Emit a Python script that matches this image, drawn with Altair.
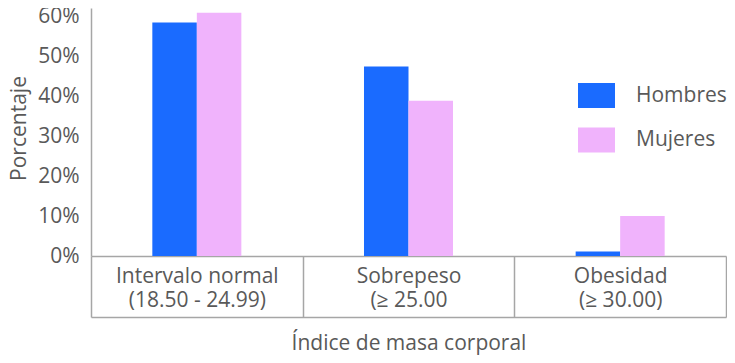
import altair as alt
import pandas as pd

categorias = ["Intervalo normal|(18.50 - 24.99)", "Sobrepeso|(≥ 25.00", "Obesidad|(≥ 30.00)"]
sexos = ["Hombres", "Mujeres"]
hombres = [58.4, 47.4, 1.1]
mujeres = [60.8, 38.8, 10.0]
colores = ["#1a6bff", "#f0b3fc"]
y_ticks = [0, 10, 20, 30, 40, 50, 60]

rows = []
for c, h, m in zip(categorias, hombres, mujeres):
    rows.append({"cat": c, "sexo": "Hombres", "pct": h})
    rows.append({"cat": c, "sexo": "Mujeres", "pct": m})
df = pd.DataFrame(rows)

FONT = "Open Sans"
TXT = "#595959"
LINE = "#a6a6a6"
FS = 21
BOX = 61  # height of the category box below the baseline

# empty slots on either side of each pair of bars
offset_domain = ["_izq"] + sexos + ["_der"]

y_enc = alt.Y(
    "pct:Q",
    scale=alt.Scale(domain=[0, 62], nice=False),
    axis=alt.Axis(
        values=y_ticks, labelExpr="datum.value + '%'", ticks=False, grid=False,
        domainColor=LINE, domainWidth=1.5, labelPadding=12, labelFontSize=FS,
        labelColor=TXT, labelFont=FONT, title="Porcentaje", titleFontSize=FS,
        titleColor=TXT, titleFont=FONT, titleFontWeight="normal", titleX=-72, titleY=120,
        titleAngle=270, titleBaseline="middle", titleAlign="center",
    ),
)

x_scale = alt.Scale(paddingInner=0, paddingOuter=0)

bars = alt.Chart(df).mark_bar().encode(
    x=alt.X(
        "cat:N", sort=categorias, scale=x_scale,
        axis=alt.Axis(
            orient="bottom", title="Índice de masa corporal", titleY=93,
            titleBaseline="alphabetic", titleFontSize=FS, titleColor=TXT, titleFont=FONT,
            titleFontWeight="normal",
            labelExpr="split(datum.label, '|')", labelAngle=0, labelBaseline="alphabetic",
            labelPadding=26 - BOX, labelLineHeight=24.5, labelLimit=300, labelFontSize=FS,
            labelColor=TXT, labelFont=FONT,
            tickBand="extent", tickSize=BOX, tickColor=LINE, tickWidth=1.5,
            domainColor=LINE, domainWidth=1.5, grid=False,
        ),
    ),
    xOffset=alt.XOffset("sexo:N", scale=alt.Scale(domain=offset_domain, paddingInner=0, paddingOuter=0.378)),
    y=y_enc,
    color=alt.Color(
        "sexo:N", sort=sexos, scale=alt.Scale(domain=sexos, range=colores),
        legend=alt.Legend(
            orient="none", legendX=487, legendY=69, title=None,
            symbolType="M-1,-0.676L1,-0.676L1,0.676L-1,0.676Z", symbolSize=1369,
            symbolStrokeWidth=0, symbolOpacity=1, labelFontSize=FS, labelColor=TXT,
            labelFont=FONT, labelOffset=21, rowPadding=12.5, padding=0,
        ),
    ),
)

bottom = alt.Chart(df).mark_bar(opacity=0).encode(
    x=alt.X(
        "cat:N", sort=categorias, scale=x_scale,
        axis=alt.Axis(orient="bottom", offset=BOX, labels=False, ticks=False, title=None,
                      domainColor=LINE, domainWidth=1.5, grid=False),
    ),
    y=alt.Y("pct:Q"),
)

chart = (
    alt.layer(bars, bottom)
    .resolve_axis(x="independent")
    .properties(
        width=635, height=248,
        autosize=alt.AutoSizeParams(type="none"),
        padding={"left": 83, "top": 0, "right": 1, "bottom": 99},
    )
    .configure(font=FONT)
    .configure_view(stroke=None)
)

chart.save("out.html", embed_options={"renderer": "svg", "actions": False})
